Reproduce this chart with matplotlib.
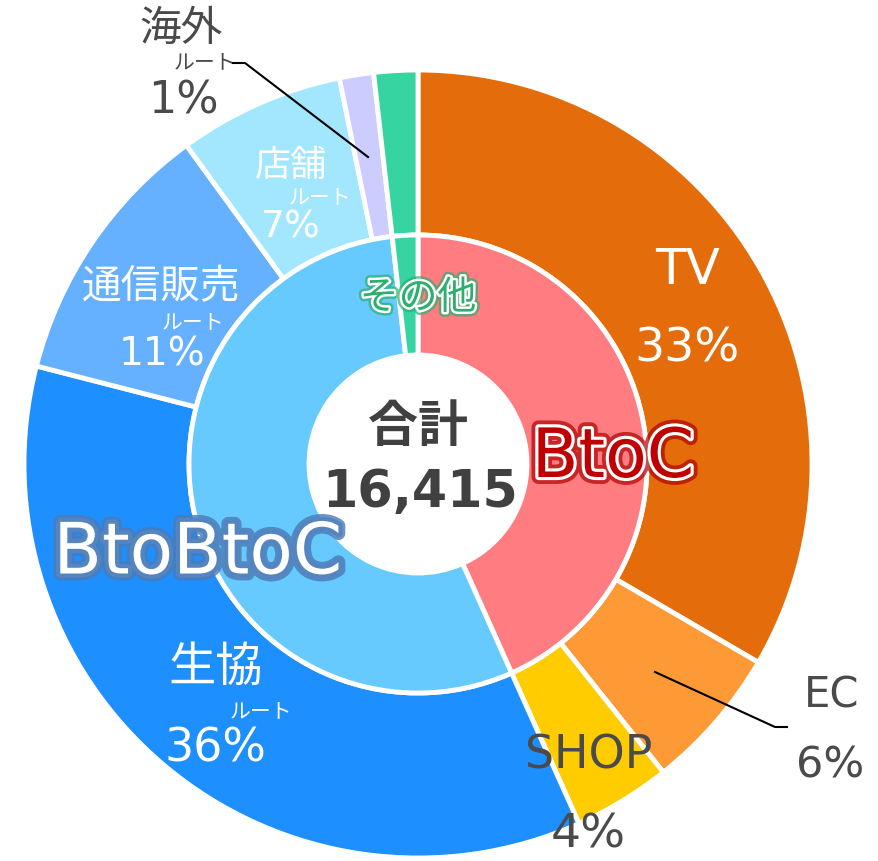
import matplotlib
matplotlib.use('Agg')
import matplotlib.pyplot as plt
import matplotlib.patheffects as pe

plt.rcParams['font.family'] = ['DejaVu Sans', 'Noto Sans CJK JP']

# 外側: ルート別の構成比 (%)
outer_labels = ['TV', 'EC', 'SHOP', '生協', '通信販売', '店舗', '海外', 'その他']
outer_values = [33.4, 5.9, 4.0, 35.7, 11.0, 6.8, 1.4, 1.8]
outer_colors = ['#E46C0A', '#FE9A35', '#FFCC00', '#1E8FFF', '#65B1FF', '#A3E7FF', '#CCCCFF', '#35D4A0']
outer_pct = ['33%', '6%', '4%', '36%', '11%', '7%', '1%', '']

# 内側: 業態別
inner_labels = ['BtoC', 'BtoBtoC', 'その他']
inner_values = [43.3, 54.9, 1.8]
inner_colors = ['#FF7C80', '#66CAFF', '#35D4A0']

total = '16,415'

# 画像上の中心と半径 (px)
CX, CY, R = 418, 464, 394
W, H = 879, 861


def px(x, y):
    return (x - CX) / R, (CY - y) / R


fig = plt.figure(figsize=(W / 100, H / 100), dpi=100)
ax = fig.add_axes([0, 0, 1, 1])

ax.pie(outer_values, radius=1.0, startangle=90, counterclock=False, colors=outer_colors,
       wedgeprops=dict(width=(394 - 229) / R, edgecolor='white', linewidth=3.5))
ax.pie(inner_values, radius=229 / R, startangle=90, counterclock=False, colors=inner_colors,
       wedgeprops=dict(width=(229 - 109) / R, edgecolor='white', linewidth=3.5))

ax.set_aspect('auto')
ax.set_xlim(-CX / R, (W - CX) / R)
ax.set_ylim(-(H - CY) / R, CY / R)
ax.axis('off')

white = 'white'
gray = '#4A4A4A'


def txt(x, y, s, size, color, **kw):
    ax.text(*px(x, y), s, fontsize=size, color=color, ha='center', va='center', **kw)


# 外側ラベル
txt(688, 270, outer_labels[0], 36, white)
txt(687, 349, outer_pct[0], 34, white)
txt(832, 695, outer_labels[1], 30, gray)
txt(830, 766, outer_pct[1], 31, gray)
txt(589, 756, outer_labels[2], 33, gray)
txt(588, 835, outer_pct[2], 34, gray)
txt(216, 668, outer_labels[3], 34, white)
txt(261, 711, 'ルート', 15, white)
txt(215, 749, outer_pct[3], 33, white)
txt(161, 287, outer_labels[4], 28.5, white)
txt(193, 322, 'ルート', 15, white)
txt(162, 354, outer_pct[4], 28, white)
txt(291, 166, outer_labels[5], 26, white)
txt(320, 197, 'ルート', 15, white)
txt(291, 227, outer_pct[5], 27, white)
txt(181, 29, outer_labels[6], 30, gray)
txt(205, 62, 'ルート', 15, gray)
txt(183, 101, outer_pct[6], 32, gray)

# 引き出し線
lx, ly = zip(*[px(233, 63), px(245, 63), px(368, 157)])
ax.plot(lx, ly, color='black', lw=1.5)
lx, ly = zip(*[px(655, 672), px(775, 727), px(787, 727)])
ax.plot(lx, ly, color='black', lw=1.5)

# 内側ラベル
txt(613, 458, inner_labels[0], 49, '#C00000',
    path_effects=[pe.Stroke(linewidth=10, foreground='#B00000', alpha=0.7),
                  pe.Stroke(linewidth=4.5, foreground='white'), pe.Normal()])
txt(198, 554, inner_labels[1], 51, white,
    path_effects=[pe.Stroke(linewidth=10, foreground='#4A7AB5', alpha=0.8),
                  pe.Stroke(linewidth=6, foreground='#5585C0'), pe.Normal()])
txt(418, 298, inner_labels[2], 28, '#2BAF6E',
    path_effects=[pe.Stroke(linewidth=7, foreground='#2BAF6E', alpha=0.7),
                  pe.Stroke(linewidth=3.5, foreground='white'), pe.Normal()])

# 合計
txt(418, 428, '合計', 36, '#404040', fontweight='bold')
txt(420, 493, total, 36.5, '#404040', fontweight='bold')

fig.savefig('out.png', dpi=100)
